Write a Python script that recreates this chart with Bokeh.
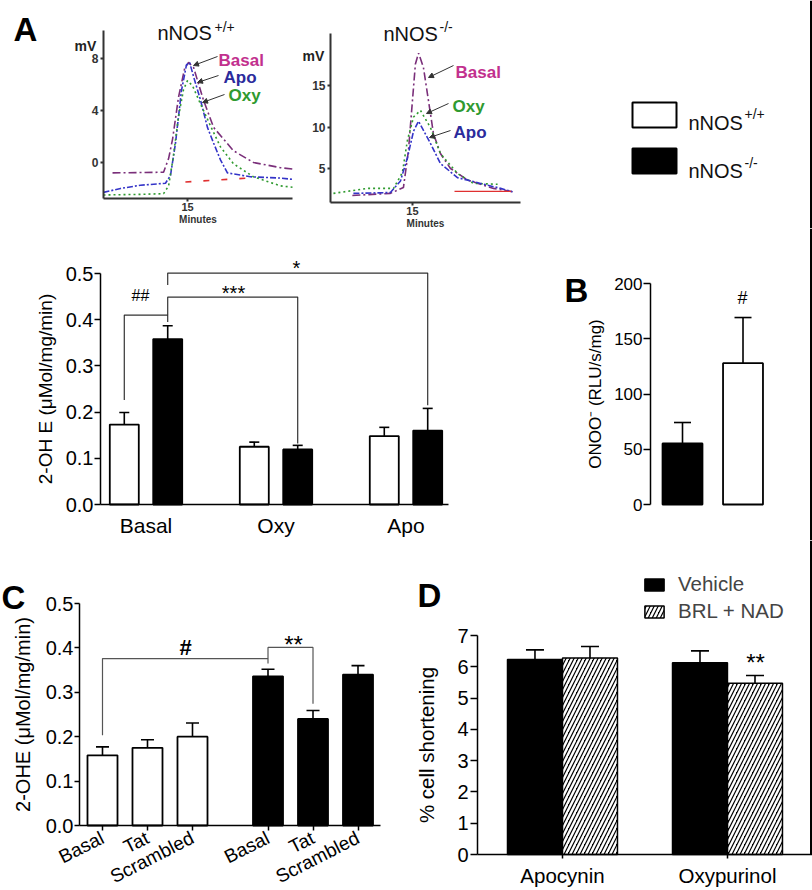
from bokeh.plotting import figure
from bokeh.layouts import row, column
from bokeh.models import (Range1d, FixedTicker, Whisker, TeeHead, Label, BoxAnnotation,
                          Legend, LegendItem, ColumnDataSource, Arrow, NormalHead,
                          PrintfTickFormatter, Span)
from bokeh.embed import file_html
from bokeh.resources import INLINE

S = 1.0
FONT = "Liberation Sans"
NARROW = "Liberation Sans Narrow, Liberation Sans"

# ------------------------------------------------------------------ data
# Panel A – HPLC chromatograms: retention time (min) / signal (mV)
WT_BASAL_T = [11.43, 13.86, 14.10, 14.29, 14.57, 14.86, 15.05, 15.29, 15.76, 16.24, 17.19, 18.14, 19.43, 20.0]
WT_BASAL_MV = [-0.8, -0.75, 0.3, 1.8, 5.0, 7.2, 7.7, 7.3, 4.8, 2.7, 0.9, 0.0, -0.4, -0.5]
WT_APO_T = [11.0, 11.81, 12.76, 13.95, 14.19, 14.43, 14.71, 14.95, 15.10, 15.29, 15.62, 15.95, 16.24, 16.57, 16.90, 18.0, 19.43, 20.0]
WT_APO_MV = [-2.3, -2.0, -1.75, -1.6, -1.0, 1.5, 5.5, 7.5, 7.7, 6.6, 4.8, 2.7, 1.5, 0.2, -0.8, -1.1, -1.2, -1.3]
WT_OXY_T = [11.0, 12.76, 13.86, 14.10, 14.33, 14.57, 14.81, 15.0, 15.24, 15.62, 16.10, 16.57, 17.19, 18.14, 19.43, 20.0]
WT_OXY_MV = [-2.5, -2.45, -2.4, -1.8, 0.5, 3.5, 5.6, 6.3, 5.9, 4.5, 2.8, 1.2, -0.1, -1.1, -1.8, -1.9]
WT_BLANK_T = [14.9, 17.9]
WT_BLANK_MV = [-1.5, -1.2]

KO_BASAL_T = [12.14, 13.95, 14.57, 14.81, 15.0, 15.14, 15.29, 15.52, 15.76, 16.0, 16.33, 16.81, 17.62, 18.86, 19.76]
KO_BASAL_MV = [1.75, 2.0, 2.7, 7.2, 13.2, 17.6, 18.9, 17.2, 13.2, 9.2, 6.8, 5.0, 3.6, 2.6, 2.2]
KO_OXY_T = [11.24, 12.86, 14.10, 14.52, 14.76, 15.05, 15.38, 15.86, 16.33, 17.14, 17.90, 19.05]
KO_OXY_MV = [2.0, 2.6, 2.6, 4.5, 8.4, 11.2, 12.0, 9.9, 6.8, 4.4, 3.2, 3.1]
KO_APO_T = [12.19, 13.95, 14.43, 14.76, 15.05, 15.29, 15.86, 16.33, 17.14, 18.24, 19.19, 19.76]
KO_APO_MV = [2.0, 2.1, 3.5, 6.3, 9.5, 10.7, 8.0, 5.6, 3.9, 3.2, 2.6, 2.2]
KO_BLANK_T = [17.0, 19.7]
KO_BLANK_MV = [2.25, 2.25]

WT_CHROM_YTICKS = [0, 4, 8]
KO_CHROM_YTICKS = [5, 10, 15]
CHROM_XTICKS = [15]

# Panel A – bar chart
A_GROUPS = ["Basal", "Oxy", "Apo"]
A_WT = [0.173, 0.125, 0.148]
A_WT_SEM = [0.026, 0.010, 0.019]
A_KO = [0.358, 0.119, 0.160]
A_KO_SEM = [0.029, 0.009, 0.048]
A_YTICKS = [0.0, 0.1, 0.2, 0.3, 0.4, 0.5]

# Panel B
B_GROUPS = ["nNOS-/-", "nNOS+/+"]
B_VALUES = [55.2, 127.9]
B_SEM = [19.0, 41.3]
B_YTICKS = [0, 50, 100, 150, 200]

# Panel C
C_LABELS = ["Basal", "Tat", "Scrambled"]
C_WT = [0.158, 0.175, 0.200]
C_WT_SEM = [0.019, 0.018, 0.031]
C_KO = [0.336, 0.240, 0.340]
C_KO_SEM = [0.016, 0.019, 0.020]
C_YTICKS = [0.0, 0.1, 0.2, 0.3, 0.4, 0.5]

# Panel D
D_GROUPS = ["Apocynin", "Oxypurinol"]
D_VEH = [6.23, 6.13]
D_VEH_SEM = [0.31, 0.38]
D_BRL = [6.28, 5.47]
D_BRL_SEM = [0.37, 0.25]
D_YTICKS = [0, 1, 2, 3, 4, 5, 6, 7]

C_BASAL = "#7a2f7a"
C_APO = "#3434c8"
C_OXY = "#2f9a2f"
C_BLANK = "#e03030"
T_BASAL = "#c2308e"
T_APO = "#2b2b9c"
T_OXY = "#2f9a2f"


# ------------------------------------------------------------------ helpers
def fpx(v):
    return f"{v * S:.1f}px"


def panel(x0, x1, y0, y1, xcal, ycal):
    """Figure covering page rectangle (x0..x1, y0..y1) of the reference.
    xcal/ycal: ((pixel, value), (pixel, value)) calibration of each axis."""
    (xa, va), (xb, vb) = xcal
    (ya, wa), (yb, wb) = ycal
    kx = (vb - va) / (xb - xa)
    ky = (wb - wa) / (yb - ya)
    xr = (va + (x0 - xa) * kx, va + (x1 - xa) * kx)
    yr = (wa + (y1 - ya) * ky, wa + (y0 - ya) * ky)
    p = figure(width=round((x1 - x0) * S), height=round((y1 - y0) * S),
               x_range=Range1d(*xr), y_range=Range1d(*yr),
               output_backend="svg", toolbar_location=None, title=None,
               min_border_left=0, min_border_right=0, min_border_top=0, min_border_bottom=0)
    p.xgrid.visible = False
    p.ygrid.visible = False
    p.outline_line_color = None
    p.border_fill_color = "white"

    def m(x, y):
        return va + (x - xa) * kx, wa + (y - ya) * ky
    return p, m


def label(p, m, x, y, text, size, color="black", font=FONT, style="normal",
          align="left", baseline="alphabetic"):
    lx, ly = m(x, y)
    p.add_layout(Label(x=lx, y=ly, text=text, text_font=font, text_font_size=fpx(size),
                       text_color=color, text_font_style=style, text_align=align,
                       text_baseline=baseline))


def style_axis(ax, size, color="black", bold=False, width=1.5, tick_out=6, standoff=2):
    ax.axis_line_color = color
    ax.axis_line_width = width
    ax.major_tick_line_color = color
    ax.major_tick_line_width = width
    ax.major_tick_in = 0
    ax.major_tick_out = round(tick_out * S)
    ax.minor_tick_line_color = None
    ax.major_label_text_font = FONT
    ax.major_label_text_font_size = fpx(size)
    ax.major_label_text_color = color
    ax.major_label_text_font_style = "bold" if bold else "normal"
    ax.major_label_standoff = round(standoff * S)
    ax.axis_label_text_font = FONT
    ax.axis_label_text_font_style = "normal"
    ax.axis_label_text_color = color


def place_axes(p, xb, yb):
    p.xaxis.bounds = xb
    p.yaxis.bounds = yb
    p.xaxis.fixed_location = yb[0]
    p.yaxis.fixed_location = xb[0]


def arrow(p, m, x0, y0, x1, y1):
    a0 = m(x0, y0)
    a1 = m(x1, y1)
    p.add_layout(Arrow(x_start=a0[0], y_start=a0[1], x_end=a1[0], y_end=a1[1],
                       line_color="#333333", line_width=1,
                       end=NormalHead(size=5, fill_color="#333333", line_color="#333333")))


def errbars(p, xs, tops, sems, cap, lw=1.5):
    src = ColumnDataSource(dict(x=xs, top=tops, err=[t + e for t, e in zip(tops, sems)]))
    p.add_layout(Whisker(source=src, base="x", lower="top", upper="err", dimension="height",
                         line_color="black", line_width=lw, lower_head=None,
                         upper_head=TeeHead(size=round(cap * S), line_width=lw, line_color="black")))


def brackets(p, specs, color="#333333", lw=1.2):
    xs, ys = [], []
    for xa, xb, ya, ytop, yb in specs:
        xs.append([xa, xa, xb, xb])
        ys.append([ya, ytop, ytop, yb])
    p.multi_line(xs, ys, line_color=color, line_width=lw)


def edge_rule(p, m, x):
    # the thin frame line running down the right edge of the original figure
    p.add_layout(Span(location=m(x, 0)[0], dimension="height", line_color="black", line_width=2))


# ------------------------------------------------------------------ Row 1: chromatograms + legend
XB1, YB1 = (11.0, 20.0), (-2.77, 10.15)
p1, m1 = panel(0, 298, 0, 228, ((103, XB1[0]), (292, XB1[1])), ((198, YB1[0]), (30, YB1[1])))
p1.line(WT_BASAL_T, WT_BASAL_MV, line_color=C_BASAL, line_width=1.6, line_dash="8 3 2 3")
p1.line(WT_APO_T, WT_APO_MV, line_color=C_APO, line_width=1.6, line_dash="6 2 2 2")
p1.line(WT_OXY_T, WT_OXY_MV, line_color=C_OXY, line_width=1.6, line_dash="2 3")
p1.line(WT_BLANK_T, WT_BLANK_MV, line_color=C_BLANK, line_width=1.6, line_dash="6 12")
p1.yaxis.ticker = FixedTicker(ticks=WT_CHROM_YTICKS)
p1.xaxis.ticker = FixedTicker(ticks=CHROM_XTICKS)
place_axes(p1, XB1, YB1)
for ax in (p1.xaxis[0], p1.yaxis[0]):
    style_axis(ax, 12, color="#333333", bold=True, width=2, tick_out=3, standoff=2)
p1.xaxis.axis_label = "Minutes"
p1.xaxis.axis_label_text_font_size = fpx(10)
p1.xaxis.axis_label_text_font_style = "bold"
p1.xaxis.axis_label_standoff = 0
p1.xaxis.major_label_standoff = 1
p1.xaxis.major_label_text_font_size = fpx(11)
label(p1, m1, 13, 29, "A", 33, font=NARROW, style="bold")
label(p1, m1, 157, 32, "nNOS", 20, color="#111111")
label(p1, m1, 214, 26, "+/+", 14, color="#111111")
label(p1, m1, 74, 45, "mV", 14, color="#222222", style="bold")
label(p1, m1, 218, 60, "Basal", 17, color=T_BASAL, style="bold")
label(p1, m1, 223, 77, "Apo", 17, color=T_APO, style="bold")
label(p1, m1, 228, 95, "Oxy", 17, color=T_OXY, style="bold")
arrow(p1, m1, 217, 56, 193, 65)
arrow(p1, m1, 218, 75, 197, 82)
arrow(p1, m1, 224, 94, 202, 102)

XB2, YB2 = (11.1, 20.14), (0.9, 21.27)
p2, m2 = panel(298, 540, 0, 228, ((330, XB2[0]), (520, XB2[1])), ((202, YB2[0]), (33, YB2[1])))
p2.line(KO_BASAL_T, KO_BASAL_MV, line_color=C_BASAL, line_width=1.6, line_dash="8 3 2 3")
p2.line(KO_OXY_T, KO_OXY_MV, line_color=C_OXY, line_width=1.6, line_dash="2 3")
p2.line(KO_APO_T, KO_APO_MV, line_color=C_APO, line_width=1.6, line_dash="6 2 2 2")
p2.line(KO_BLANK_T, KO_BLANK_MV, line_color=C_BLANK, line_width=1.2)
p2.yaxis.ticker = FixedTicker(ticks=KO_CHROM_YTICKS)
p2.xaxis.ticker = FixedTicker(ticks=CHROM_XTICKS)
place_axes(p2, XB2, YB2)
for ax in (p2.xaxis[0], p2.yaxis[0]):
    style_axis(ax, 12, color="#333333", bold=True, width=2, tick_out=3, standoff=2)
p2.xaxis.axis_label = "Minutes"
p2.xaxis.axis_label_text_font_size = fpx(10)
p2.xaxis.axis_label_text_font_style = "bold"
p2.xaxis.axis_label_standoff = 0
p2.xaxis.major_label_standoff = 1
p2.xaxis.major_label_text_font_size = fpx(11)
label(p2, m2, 383, 33, "nNOS", 20, color="#111111")
label(p2, m2, 439, 26, "-/-", 14, color="#111111")
label(p2, m2, 302, 55, "mV", 14, color="#222222", style="bold")
label(p2, m2, 455, 72, "Basal", 17, color=T_BASAL, style="bold")
label(p2, m2, 452, 106, "Oxy", 17, color=T_OXY, style="bold")
label(p2, m2, 453, 132, "Apo", 17, color=T_APO, style="bold")
arrow(p2, m2, 453, 65, 428, 77)
arrow(p2, m2, 448, 103, 426, 113)
arrow(p2, m2, 450, 130, 429, 137)

p3, m3 = panel(540, 812, 0, 228, ((540, 0), (812, 1)), ((228, 0), (0, 1)))
p3.xaxis.visible = False
p3.yaxis.visible = False
for (top, bot, fill) in [(102, 127, "white"), (148, 173, "black")]:
    l, t = m3(632, top)
    r, b = m3(676, bot)
    p3.add_layout(BoxAnnotation(left=l, right=r, top=t, bottom=b, fill_color=fill, fill_alpha=1,
                                line_color="black", line_width=2, line_alpha=1))
label(p3, m3, 688, 122, "nNOS", 20, color="#111111")
label(p3, m3, 744, 113, "+/+", 14, color="#111111")
label(p3, m3, 688, 170, "nNOS", 20, color="#111111")
label(p3, m3, 744, 162, "-/-", 14, color="#111111")
edge_rule(p3, m3, 810.5)

# ------------------------------------------------------------------ Row 2: A bars, B
XB4, YB4 = (0.65, 3.327), (0, 0.5)
p4, m4 = panel(0, 480, 228, 540, ((100, XB4[0]), (448, XB4[1])), ((504, YB4[0]), (273, YB4[1])))
A_OFF, A_W = 0.167, 0.223
a_pos = [i + 1 for i in range(len(A_GROUPS))]
a_wt_x = [x - A_OFF for x in a_pos]
a_ko_x = [x + A_OFF for x in a_pos]
p4.vbar(x=a_wt_x, top=A_WT, width=A_W, fill_color="white", line_color="black", line_width=1.8)
p4.vbar(x=a_ko_x, top=A_KO, width=A_W, fill_color="black", line_color="black", line_width=1.8)
errbars(p4, a_wt_x, A_WT, A_WT_SEM, 10, 1.6)
errbars(p4, a_ko_x, A_KO, A_KO_SEM, 10, 1.6)
brackets(p4, [(a_wt_x[0], a_ko_x[0], 0.226, 0.41, 0.395),
              (a_ko_x[0], a_ko_x[1], 0.41, 0.449, 0.132),
              (a_ko_x[0], a_ko_x[2], 0.475, 0.501, 0.215)])
for txt, (tx, ty), sz in [("##", (140, 295), 16), ("***", (233, 292), 20), ("*", (296, 267), 20)]:
    label(p4, m4, tx, ty, txt, sz, align="center", baseline="middle")
p4.yaxis.ticker = FixedTicker(ticks=A_YTICKS)
p4.yaxis.formatter = PrintfTickFormatter(format="%.1f")
p4.xaxis.ticker = FixedTicker(ticks=a_pos)
p4.xaxis.major_label_overrides = {x: g for x, g in zip(a_pos, A_GROUPS)}
place_axes(p4, XB4, YB4)
style_axis(p4.yaxis[0], 20, tick_out=6, standoff=1)
style_axis(p4.xaxis[0], 21, tick_out=0, standoff=9)
p4.xaxis.major_tick_line_color = None
p4.yaxis.axis_label = "2-OH E (μMol/mg/min)"
p4.yaxis.axis_label_text_font_size = fpx(19)
p4.yaxis.axis_label_standoff = round(7 * S)

XB5, YB5 = (0.471, 2.785), (0, 200)
p5, m5 = panel(480, 812, 228, 540, ((650, XB5[0]), (790, XB5[1])), ((504, YB5[0]), (283, YB5[1])))
b_pos = [i + 1 for i in range(len(B_GROUPS))]
p5.vbar(x=b_pos, top=B_VALUES, width=0.66, fill_color=["black", "white"], line_color="black", line_width=1.8)
errbars(p5, b_pos, B_VALUES, B_SEM, 17, 1.6)
label(p5, m5, 742, 297, "#", 18, align="center", baseline="middle")
label(p5, m5, 564, 290, "B", 33, font=NARROW, style="bold")
p5.yaxis.ticker = FixedTicker(ticks=B_YTICKS)
place_axes(p5, XB5, YB5)
p5.xaxis.visible = False
style_axis(p5.yaxis[0], 17, tick_out=7, standoff=1)
p5.yaxis.axis_label = "ONOO⁻ (RLU/s/mg)"
p5.yaxis.axis_label_text_font_size = fpx(17)
p5.yaxis.axis_label_standoff = round(6 * S)
edge_rule(p5, m5, 810.5)

# ------------------------------------------------------------------ Row 3: C, D
XB6, YB6 = (0.489, 7.178), (0, 0.5)
p6, m6 = panel(0, 400, 540, 890, ((79, XB6[0]), (380, XB6[1])), ((825, YB6[0]), (603, YB6[1])))
C_GAP = 0.678
c_wt_x = [i + 1 for i in range(len(C_LABELS))]
c_ko_x = [i + 1 + len(C_LABELS) + C_GAP for i in range(len(C_LABELS))]
p6.vbar(x=c_wt_x, top=C_WT, width=0.667, fill_color="white", line_color="black", line_width=1.8)
p6.vbar(x=c_ko_x, top=C_KO, width=0.667, fill_color="black", line_color="black", line_width=1.8)
errbars(p6, c_wt_x, C_WT, C_WT_SEM, 13, 1.6)
errbars(p6, c_ko_x, C_KO, C_KO_SEM, 13, 1.6)
brackets(p6, [(c_wt_x[0], c_ko_x[0], 0.203, 0.376, 0.365),
              (c_ko_x[0], c_ko_x[1], 0.376, 0.401, 0.274)], color="#555555", lw=1.2)
label(p6, m6, 185, 647, "#", 22, style="bold", align="center", baseline="middle")
label(p6, m6, 293, 644, "**", 24, align="center", baseline="middle")
label(p6, m6, 1, 597, "C", 33, font=NARROW, style="bold")
p6.yaxis.ticker = FixedTicker(ticks=C_YTICKS)
p6.yaxis.formatter = PrintfTickFormatter(format="%.1f")
c_ticks = c_wt_x + c_ko_x
p6.xaxis.ticker = FixedTicker(ticks=c_ticks)
p6.xaxis.major_label_overrides = {x: t for x, t in zip(c_ticks, C_LABELS + C_LABELS)}
place_axes(p6, XB6, YB6)
style_axis(p6.yaxis[0], 20, tick_out=5, standoff=1)
style_axis(p6.xaxis[0], 19, tick_out=5, standoff=6)
p6.xaxis.major_label_orientation = 0.47
p6.yaxis.axis_label = "2-OHE (μMol/mg/min)"
p6.yaxis.axis_label_text_font_size = fpx(20)
p6.yaxis.axis_label_standoff = round(9 * S)

XB7, YB7 = (0.485, 2.497), (0, 7)
p7, m7 = panel(400, 812, 540, 890, ((477, XB7[0]), (809, XB7[1])), ((854, YB7[0]), (635, YB7[1])))
D_OFF, D_W = 0.1667, 0.333
d_pos = [i + 1 for i in range(len(D_GROUPS))]
d_veh_x = [x - D_OFF for x in d_pos]
d_brl_x = [x + D_OFF for x in d_pos]
r_veh = p7.vbar(x=d_veh_x, top=D_VEH, width=D_W, fill_color="black", line_color="black", line_width=1.5)
r_brl = p7.vbar(x=d_brl_x, top=D_BRL, width=D_W, fill_color="black", line_color="black", line_width=1.5,
                hatch_pattern="right_diagonal_line", hatch_color="white", hatch_weight=2.4,
                hatch_scale=8)
errbars(p7, d_veh_x, D_VEH, D_VEH_SEM, 18, 1.6)
errbars(p7, d_brl_x, D_BRL, D_BRL_SEM, 18, 1.6)
label(p7, m7, 755, 662, "**", 24, align="center", baseline="middle")
label(p7, m7, 417, 595, "D", 33, font=NARROW, style="bold")
p7.yaxis.ticker = FixedTicker(ticks=D_YTICKS)
p7.xaxis.ticker = FixedTicker(ticks=d_pos)
p7.xaxis.major_label_overrides = {x: g for x, g in zip(d_pos, D_GROUPS)}
place_axes(p7, XB7, YB7)
p7.xaxis.bounds = (XB7[0], XB7[1] + 0.02)
style_axis(p7.yaxis[0], 20, tick_out=7, standoff=2)
style_axis(p7.xaxis[0], 20.5, tick_out=4, standoff=5)
p7.yaxis.axis_label = "% cell shortening"
p7.yaxis.axis_label_text_font_size = fpx(20.5)
p7.yaxis.axis_label_standoff = round(16 * S)
legend = Legend(items=[LegendItem(label="Vehicle", renderers=[r_veh]),
                       LegendItem(label="BRL + NAD", renderers=[r_brl])],
                location=(round((642 - 400) * S), round((890 - 623) * S)), orientation="vertical",
                glyph_width=round(24 * S), glyph_height=round(15 * S),
                label_text_font=FONT, label_text_font_size=fpx(20.5),
                label_standoff=round(12 * S), spacing=round(3 * S), padding=0, margin=0,
                border_line_color=None, background_fill_alpha=0)
p7.add_layout(legend)
ex0, ey0 = m7(810.5, 854)
ex1, ey1 = m7(810.5, 540)
p7.segment(x0=[ex0], y0=[ey0], x1=[ex1], y1=[ey1], line_color="black", line_width=2)

layout = column(row(p1, p2, p3), row(p4, p5), row(p6, p7))

with open("out.html", "w") as f:
    f.write(file_html(layout, INLINE))
